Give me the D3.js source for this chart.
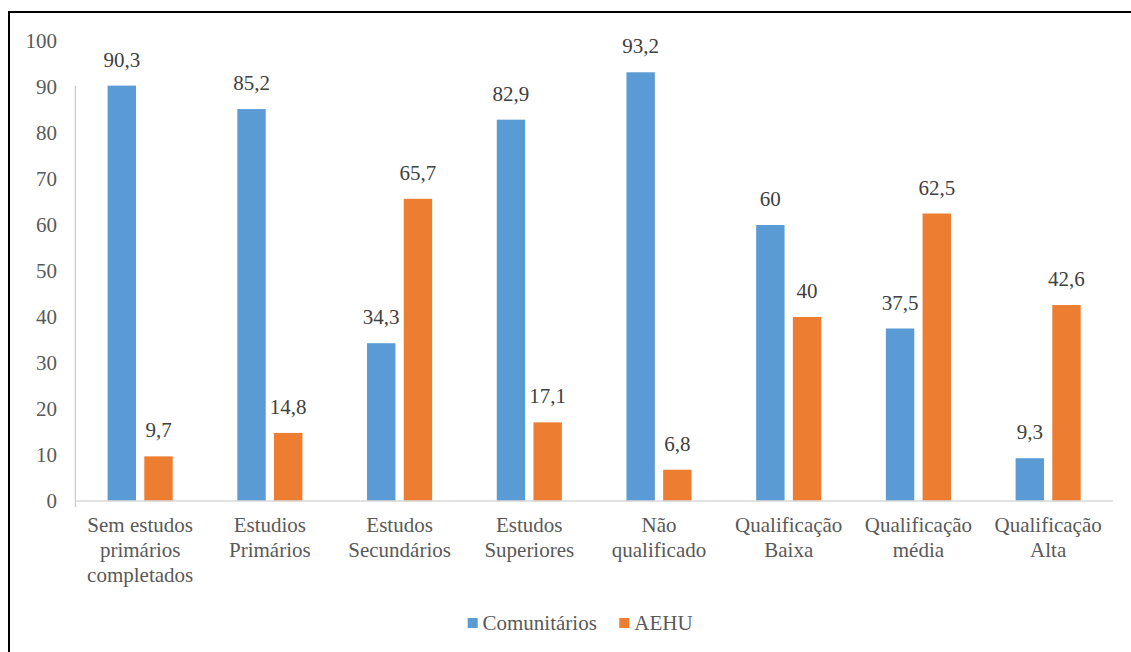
<!DOCTYPE html>
<html>
<head>
<meta charset="utf-8">
<script src="https://cdn.jsdelivr.net/npm/d3@7"></script>
<style>
  body { margin: 0; background: #fff; }
</style>
</head>
<body>
<svg id="chart" width="1131" height="652"></svg>
<script>
// categorias do eixo x (cada linha do rótulo separada)
var categorias = [
  ["Sem estudos", "primários", "completados"],
  ["Estudios", "Primários"],
  ["Estudos", "Secundários"],
  ["Estudos", "Superiores"],
  ["Não", "qualificado"],
  ["Qualificação", "Baixa"],
  ["Qualificação", "média"],
  ["Qualificação", "Alta"]
];
var comunitarios = [90.3, 85.2, 34.3, 82.9, 93.2, 60, 37.5, 9.3];
var aehu = [9.7, 14.8, 65.7, 17.1, 6.8, 40, 62.5, 42.6];
var yTicks = [0, 10, 20, 30, 40, 50, 60, 70, 80, 90, 100];
var series = [
  { nome: "Comunitários", valores: comunitarios, cor: "#5B9BD5" },
  { nome: "AEHU", valores: aehu, cor: "#ED7D31" }
];

var fonte = "'Liberation Serif', 'Times New Roman', Times, serif";
var fs = "21px";

var svg = d3.select("#chart").attr("font-family", fonte);

// moldura (só esquerda e topo ficam visíveis)
svg.append("rect")
  .attr("x", 9).attr("y", 12)
  .attr("width", 1200).attr("height", 700)
  .attr("fill", "none").attr("stroke", "#000").attr("stroke-width", 2);

var left = 75.3, right = 1113, y0 = 501, y100 = 41;
var idx = categorias.map(function(d, i){ return i; });

var x = d3.scaleBand().domain(idx).range([left, right]).padding(0);
var y = d3.scaleLinear().domain([0, 100]).range([y0, y100]);

var barW = 28.4, gap = 8.3;

// eixo y: só a linha e os rótulos
svg.append("line")
  .attr("x1", left).attr("x2", left)
  .attr("y1", y(90.3)).attr("y2", y0 + 6)
  .attr("stroke", "#bfbfbf").attr("stroke-width", 1);

svg.selectAll(".ytick").data(yTicks).enter()
  .append("text")
  .attr("class", "ytick")
  .attr("x", 57)
  .attr("y", function(d){ return y(d); })
  .attr("dy", "0.33em")
  .attr("text-anchor", "end")
  .attr("font-size", fs)
  .attr("fill", "#595959")
  .text(function(d){ return d; });

// barras
series.forEach(function(s, si){
  var off = si === 0 ? -(gap / 2 + barW) : gap / 2;
  var cx = function(i){ return x(i) + x.bandwidth() / 2 + off; };

  svg.selectAll(".bar" + si).data(s.valores).enter()
    .append("rect")
    .attr("x", function(d, i){ return cx(i); })
    .attr("y", function(d){ return y(d); })
    .attr("width", barW)
    .attr("height", function(d){ return y0 - y(d); })
    .attr("fill", s.cor);

  svg.selectAll(".lab" + si).data(s.valores).enter()
    .append("text")
    .attr("x", function(d, i){ return cx(i) + barW / 2; })
    .attr("y", function(d){ return y(d) - 19; })
    .attr("text-anchor", "middle")
    .attr("font-size", fs)
    .attr("fill", "#404040")
    .text(function(d){ return String(d).replace(".", ","); });
});

// eixo x
svg.append("line")
  .attr("x1", left).attr("x2", right)
  .attr("y1", y0).attr("y2", y0)
  .attr("stroke", "#d9d9d9").attr("stroke-width", 1.5);

var catG = svg.selectAll(".cat").data(categorias).enter()
  .append("text")
  .attr("class", "cat")
  .attr("text-anchor", "middle")
  .attr("font-size", fs)
  .attr("fill", "#595959");

catG.selectAll("tspan").data(function(d, i){
    return d.map(function(t){ return { t: t, i: i }; });
  }).enter()
  .append("tspan")
  .attr("x", function(d){ return x(d.i) + x.bandwidth() / 2; })
  .attr("y", function(d, j){ return 532 + j * 25; })
  .text(function(d){ return d.t; });

// legenda
var leg = [
  { x: 467.7, tx: 482.5 },
  { x: 619.3, tx: 634.3 }
];
series.forEach(function(s, si){
  svg.append("rect")
    .attr("x", leg[si].x).attr("y", 618)
    .attr("width", 10).attr("height", 10)
    .attr("fill", s.cor);
  svg.append("text")
    .attr("x", leg[si].tx).attr("y", 630)
    .attr("font-size", fs)
    .attr("fill", "#595959")
    .text(s.nome);
});
</script>
</body>
</html>
